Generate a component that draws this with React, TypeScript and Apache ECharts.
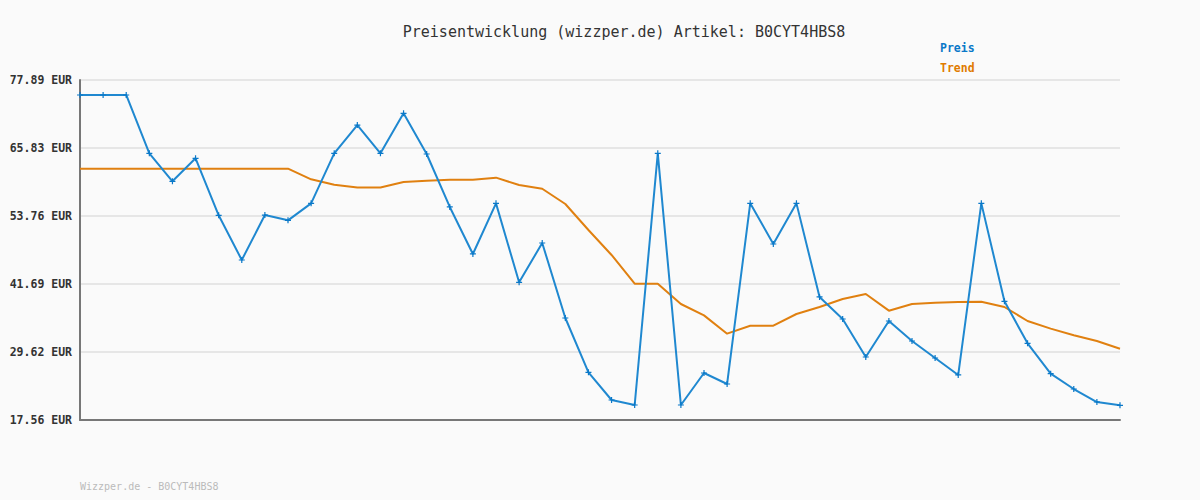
import React, { useEffect, useRef } from "react";
import * as echarts from "echarts";

const categories: string[] = Array.from({ length: 46 }, (_, i) => String(i + 1));

const preis: number[] = [
  75.23, 75.23, 75.23, 64.88, 59.91, 64.0, 53.88, 45.95, 53.93, 52.99,
  56.0, 64.88, 69.9, 64.88, 71.98, 64.76, 55.36, 47.02, 56.0, 41.99,
  48.97, 35.66, 26.02, 21.11, 20.22, 64.88, 20.22, 25.9, 23.95, 56.0,
  48.79, 56.0, 39.39, 35.48, 28.74, 35.13, 31.58, 28.56, 25.55, 56.0,
  38.62, 31.17, 25.78, 23.06, 20.75, 20.16,
];

const trend: number[] = [
  62.15, 62.15, 62.15, 62.15, 62.15, 62.15, 62.15, 62.15, 62.15, 62.15,
  60.27, 59.32, 58.8, 58.8, 59.79, 60.02, 60.2, 60.2, 60.56, 59.26,
  58.6, 55.89, 51.27, 46.84, 41.75, 41.75, 38.14, 36.13, 32.88, 34.29,
  34.29, 36.37, 37.61, 39.03, 39.92, 36.96, 38.14, 38.37, 38.5, 38.55,
  37.61, 35.13, 33.77, 32.59, 31.58, 30.21,
];

const tickLabels: string[] = ["17.56", "29.62", "41.69", "53.76", "65.83", "77.89"];
const yMin = 17.56;
const yMax = 77.89;

const MONO = "'DejaVu Sans Mono', 'Liberation Mono', monospace";

export default function App() {
  const ref = useRef<HTMLDivElement>(null);
  useEffect(() => {
    document.body.style.margin = "0";
    if (!ref.current) return;
    const chart = echarts.init(ref.current, null, { renderer: "svg" });
    chart.setOption({
      animation: false,
      backgroundColor: "#fafafa",
      title: {
        text: "Preisentwicklung (wizzper.de) Artikel: B0CYT4HBS8",
        left: 619,
        textAlign: "center",
        top: 19,
        textStyle: { fontFamily: MONO, fontSize: 15, fontWeight: "normal", color: "#333" },
      },
      legend: {
        orient: "vertical",
        left: 930,
        top: 37,
        icon: "none",
        itemWidth: 0,
        itemHeight: 0,
        itemGap: 8,
        selectedMode: false,
        data: [
          { name: "Preis", textStyle: { color: "#0a78c8" } },
          { name: "Trend", textStyle: { color: "#e07b00" } },
        ],
        textStyle: { fontFamily: MONO, fontSize: 11.5, fontWeight: "bold" },
      },
      graphic: [
        {
          type: "text",
          left: 80,
          top: 481,
          style: {
            text: "Wizzper.de - B0CYT4HBS8",
            fontFamily: MONO,
            fontSize: 10,
            fill: "#bbbbbb",
          },
        },
      ],
      grid: { left: 80, right: 80, top: 80, bottom: 80, containLabel: false },
      xAxis: {
        type: "category",
        data: categories,
        boundaryGap: false,
        axisLine: { show: true, lineStyle: { color: "#777", width: 2 } },
        axisTick: { show: false },
        axisLabel: { show: false },
        splitLine: { show: false },
      },
      yAxis: {
        type: "value",
        min: yMin,
        max: yMax,
        interval: (yMax - yMin) / 5,
        axisLine: { show: true, lineStyle: { color: "#777", width: 2 } },
        axisTick: { show: false },
        splitLine: { show: true, lineStyle: { color: "#e6e6e6", width: 2 } },
        axisLabel: {
          formatter: (_v: number, i: number) => tickLabels[i] + " EUR",
          fontFamily: MONO,
          fontSize: 11.5,
          fontWeight: "bold",
          color: "#333",
          margin: 8,
        },
      },
      series: [
        {
          name: "Trend",
          type: "line",
          data: trend,
          symbol: "none",
          z: 2,
          lineStyle: { color: "#e08010", width: 2 },
          itemStyle: { color: "#e07b00" },
        },
        {
          name: "Preis",
          type: "line",
          data: preis,
          symbol: "path://M2,0H3V2H5V3H3V5H2V3H0V2H2Z",
          symbolSize: 6,
          showSymbol: true,
          z: 3,
          lineStyle: { color: "#1f88d0", width: 2 },
          itemStyle: { color: "#0a78c8" },
        },
      ],
    });
    return () => chart.dispose();
  }, []);
  return <div ref={ref} style={{ width: 1200, height: 500 }} />;
}
